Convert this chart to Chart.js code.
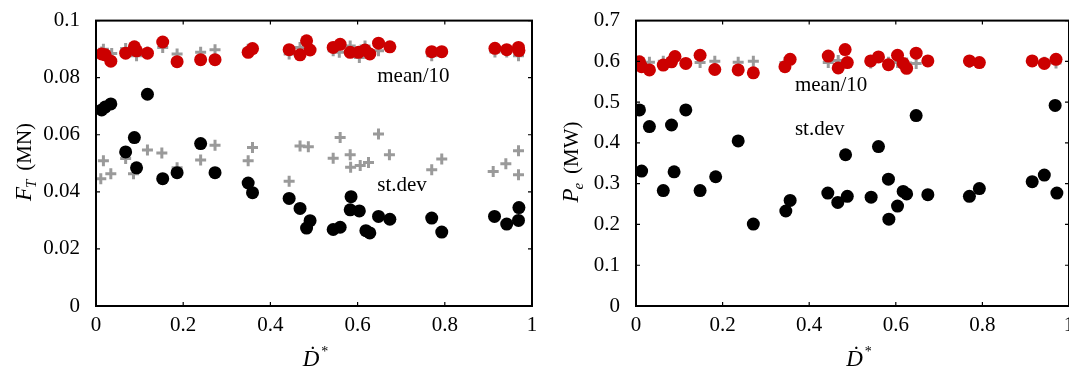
<!DOCTYPE html>
<html>
<head>
<meta charset="utf-8">
<script src="https://cdn.jsdelivr.net/npm/chart.js@4/dist/chart.umd.min.js"></script>
<style>
    html, body { margin: 0; padding: 0; background: #fff; overflow: hidden; }
    body { width: 1069px; height: 368px; position: relative; }
    .box { position: absolute; top: 0; width: 545px; height: 368px; }
</style>
</head>
<body>
<div class="box" style="left:0"><canvas id="forceCanvas" width="545" height="368"></canvas></div>
<div class="box" style="left:540px"><canvas id="powerCanvas" width="545" height="368"></canvas></div>
<script>
// thrust force F_T (MN) vs D*
const forceMeanX = [0.013, 0.021, 0.034, 0.068, 0.088, 0.093, 0.118, 0.153, 0.186, 0.240, 0.273, 0.349, 0.359, 0.443, 0.468, 0.483, 0.491, 0.544, 0.560, 0.583, 0.602, 0.617, 0.628, 0.648, 0.674, 0.770, 0.793, 0.915, 0.942, 0.969, 0.970];
const forceMeanY = [0.0883, 0.0880, 0.0858, 0.0886, 0.0908, 0.0894, 0.0886, 0.0925, 0.0856, 0.0863, 0.0863, 0.0889, 0.0902, 0.0898, 0.0880, 0.0929, 0.0897, 0.0906, 0.0917, 0.0889, 0.0889, 0.0897, 0.0883, 0.0921, 0.0908, 0.0891, 0.0891, 0.0903, 0.0898, 0.0906, 0.0895];
const forceMeanRefX = [0.013, 0.017, 0.036, 0.068, 0.093, 0.118, 0.153, 0.186, 0.240, 0.273, 0.349, 0.443, 0.468, 0.491, 0.544, 0.558, 0.583, 0.604, 0.617, 0.648, 0.770, 0.793, 0.915, 0.942, 0.969];
const forceMeanRefY = [0.0890, 0.0900, 0.0885, 0.0902, 0.0877, 0.0890, 0.0906, 0.0883, 0.0889, 0.0898, 0.0900, 0.0883, 0.0906, 0.0895, 0.0894, 0.0889, 0.0911, 0.0871, 0.0911, 0.0894, 0.0877, 0.0888, 0.0890, 0.0890, 0.0877];
const forceStdX = [0.013, 0.021, 0.034, 0.068, 0.088, 0.093, 0.118, 0.153, 0.186, 0.240, 0.273, 0.349, 0.359, 0.443, 0.468, 0.483, 0.491, 0.544, 0.560, 0.583, 0.585, 0.604, 0.619, 0.628, 0.648, 0.674, 0.770, 0.793, 0.914, 0.942, 0.969, 0.970];
const forceStdY = [0.0687, 0.0697, 0.0708, 0.0540, 0.0590, 0.0484, 0.0742, 0.0446, 0.0467, 0.0569, 0.0467, 0.0431, 0.0397, 0.0377, 0.0342, 0.0273, 0.0299, 0.0268, 0.0276, 0.0337, 0.0383, 0.0333, 0.0264, 0.0256, 0.0314, 0.0304, 0.0308, 0.0259, 0.0314, 0.0287, 0.0300, 0.0345];
const forceStdRefX = [0.011, 0.017, 0.034, 0.068, 0.086, 0.118, 0.151, 0.186, 0.240, 0.273, 0.349, 0.359, 0.443, 0.468, 0.487, 0.544, 0.560, 0.583, 0.584, 0.606, 0.625, 0.648, 0.673, 0.770, 0.793, 0.911, 0.940, 0.969, 0.969];
const forceStdRefY = [0.0446, 0.0509, 0.0463, 0.0517, 0.0463, 0.0547, 0.0536, 0.0484, 0.0512, 0.0563, 0.0509, 0.0555, 0.0437, 0.0561, 0.0558, 0.0518, 0.0590, 0.0530, 0.0486, 0.0492, 0.0503, 0.0603, 0.0530, 0.0477, 0.0515, 0.0471, 0.0498, 0.0544, 0.0460];

// power P_e (MW) vs D*
const powerMeanX = [0.008, 0.013, 0.031, 0.063, 0.082, 0.090, 0.115, 0.148, 0.182, 0.236, 0.271, 0.344, 0.356, 0.444, 0.467, 0.483, 0.488, 0.542, 0.560, 0.583, 0.604, 0.617, 0.625, 0.647, 0.674, 0.770, 0.793, 0.915, 0.943, 0.970];
const powerMeanY = [0.599, 0.587, 0.579, 0.591, 0.599, 0.612, 0.595, 0.615, 0.580, 0.579, 0.572, 0.587, 0.605, 0.613, 0.584, 0.629, 0.597, 0.601, 0.611, 0.592, 0.615, 0.595, 0.583, 0.620, 0.601, 0.601, 0.597, 0.601, 0.595, 0.605];
const powerMeanRefX = [0.010, 0.031, 0.063, 0.082, 0.148, 0.182, 0.236, 0.271, 0.344, 0.444, 0.467, 0.542, 0.583, 0.604, 0.625, 0.647, 0.674, 0.770, 0.943, 0.970];
const powerMeanRefY = [0.600, 0.598, 0.600, 0.598, 0.597, 0.600, 0.598, 0.600, 0.597, 0.597, 0.602, 0.596, 0.598, 0.597, 0.596, 0.595, 0.600, 0.597, 0.598, 0.596];
const powerStdX = [0.008, 0.013, 0.031, 0.063, 0.082, 0.088, 0.115, 0.148, 0.184, 0.236, 0.271, 0.346, 0.356, 0.443, 0.466, 0.484, 0.488, 0.543, 0.560, 0.583, 0.584, 0.604, 0.617, 0.625, 0.647, 0.674, 0.770, 0.793, 0.915, 0.943, 0.968, 0.972];
const powerStdY = [0.481, 0.331, 0.440, 0.283, 0.444, 0.329, 0.481, 0.283, 0.317, 0.405, 0.201, 0.233, 0.259, 0.277, 0.254, 0.371, 0.269, 0.267, 0.391, 0.311, 0.213, 0.245, 0.281, 0.275, 0.467, 0.273, 0.269, 0.288, 0.305, 0.321, 0.492, 0.277];

const xTicks = [0, 0.2, 0.4, 0.6, 0.8, 1];
const forceTicks = [0, 0.02, 0.04, 0.06, 0.08, 0.1];
const powerTicks = [0, 0.1, 0.2, 0.3, 0.4, 0.5, 0.6, 0.7];

const RED = '#cc0000';
const GRAY = '#9a9a9a';
const SERIF = '"Liberation Serif", "DejaVu Serif", serif';

function pts(xs, ys) {
    return xs.map((x, i) => ({ x: x, y: ys[i] }));
}

function dots(xs, ys, color) {
    return { data: pts(xs, ys), backgroundColor: color, borderColor: color, pointRadius: 6.5, pointBorderWidth: 0, order: 1 };
}

function crosses(xs, ys) {
    return { data: pts(xs, ys), pointStyle: 'cross', borderColor: GRAY, backgroundColor: GRAY, pointRadius: 5.5, pointBorderWidth: 3, order: 2 };
}

// box, inward ticks, axis titles and the two labels
const decor = {
    id: 'decor',
    afterDraw(chart, args, opts) {
        const ctx = chart.ctx;
        const a = chart.chartArea;
        const sx = chart.scales.x, sy = chart.scales.y;
        ctx.save();
        ctx.strokeStyle = '#000';
        ctx.lineWidth = 2;
        ctx.strokeRect(a.left, a.top, a.right - a.left, a.bottom - a.top);
        ctx.lineWidth = 1.2;
        ctx.beginPath();
        sx.ticks.forEach(t => {
            const px = sx.getPixelForValue(t.value);
            ctx.moveTo(px, a.bottom); ctx.lineTo(px, a.bottom - 4);
            ctx.moveTo(px, a.top); ctx.lineTo(px, a.top + 4);
        });
        sy.ticks.forEach(t => {
            const py = sy.getPixelForValue(t.value);
            ctx.moveTo(a.left, py); ctx.lineTo(a.left + 4, py);
            ctx.moveTo(a.right, py); ctx.lineTo(a.right - 4, py);
        });
        ctx.stroke();

        ctx.fillStyle = '#000';
        ctx.textBaseline = 'middle';
        ctx.textAlign = 'left';
        ctx.font = '21px ' + SERIF;
        opts.notes.forEach(n => {
            ctx.fillText(n.text, sx.getPixelForValue(n.x), sy.getPixelForValue(n.y));
        });

        // y title, rotated
        ctx.save();
        ctx.translate(opts.yTitleX, 162);
        ctx.rotate(-Math.PI / 2);
        ctx.textBaseline = 'alphabetic';
        const fMain = 'italic 23px ' + SERIF, fSub = 'italic 15px ' + SERIF, fUnit = '21px ' + SERIF;
        ctx.font = fMain; const w1 = ctx.measureText(opts.yMain).width;
        ctx.font = fSub; const w2 = ctx.measureText(opts.ySub).width;
        ctx.font = fUnit; const w3 = ctx.measureText(opts.yUnit).width;
        let x0 = -(w1 + w2 + 8 + w3) / 2;
        ctx.font = fMain; ctx.fillText(opts.yMain, x0, 8);
        ctx.font = fSub; ctx.fillText(opts.ySub, x0 + w1 - 1, 13);
        ctx.font = fUnit; ctx.fillText(opts.yUnit, x0 + w1 + w2 + 8, 8);
        ctx.restore();

        // x title D-dot star
        ctx.textBaseline = 'alphabetic';
        ctx.font = 'italic 23px ' + SERIF;
        const wd = ctx.measureText('Ḋ').width;
        const cx = (a.left + a.right) / 2 + opts.xTitleShift;
        ctx.fillText('Ḋ', cx - wd / 2 - 3, 366);
        ctx.font = '14px ' + SERIF;
        ctx.fillText('*', cx + wd / 2 - 1, 356);
        ctx.restore();
    }
};

function makeChart(id, datasets, yMax, yTicks, rightPad, opts) {
    const ctx = document.getElementById(id).getContext('2d');
    const tickFont = { family: SERIF, size: 21 };
    return new Chart(ctx, {
        type: 'scatter',
        data: { datasets: datasets },
        options: {
            responsive: false,
            animation: false,
            layout: { padding: { top: 16, right: rightPad, left: 0, bottom: 0 } },
            plugins: { legend: { display: false }, tooltip: { enabled: false }, decor: opts },
            scales: {
                x: {
                    type: 'linear', min: 0, max: 1,
                    afterBuildTicks: s => { s.ticks = xTicks.map(v => ({ value: v })); },
                    afterFit: s => { s.height = 62; },
                    ticks: { font: tickFont, color: '#000', padding: -1, maxRotation: 0, callback: v => String(+v.toFixed(2)) },
                    grid: { display: false },
                    border: { display: false }
                },
                y: {
                    min: 0, max: yMax,
                    afterBuildTicks: s => { s.ticks = yTicks.map(v => ({ value: v })); },
                    afterFit: s => { s.width = 96; },
                    ticks: { font: tickFont, color: '#000', padding: 8, callback: v => String(+v.toFixed(2)) },
                    grid: { display: false },
                    border: { display: false }
                }
            }
        },
        plugins: [decor]
    });
}

document.addEventListener('DOMContentLoaded', function() {
    makeChart('forceCanvas', [
        dots(forceMeanX, forceMeanY, RED),
        crosses(forceMeanRefX, forceMeanRefY),
        dots(forceStdX, forceStdY, '#000'),
        crosses(forceStdRefX, forceStdRefY)
    ], 0.1, forceTicks, 13, {
        notes: [{ text: 'mean/10', x: 0.645, y: 0.0803 }, { text: 'st.dev', x: 0.645, y: 0.0424 }],
        yTitleX: 23, yMain: 'F', ySub: 'T', yUnit: '(MN)', xTitleShift: 0
    });

    makeChart('powerCanvas', [
        dots(powerMeanX, powerMeanY, RED),
        crosses(powerMeanRefX, powerMeanRefY),
        dots(powerStdX, powerStdY, '#000')
    ], 0.7, powerTicks, 16, {
        notes: [{ text: 'mean/10', x: 0.367, y: 0.542 }, { text: 'st.dev', x: 0.367, y: 0.432 }],
        yTitleX: 30, yMain: 'P', ySub: 'e', yUnit: '(MW)', xTitleShift: 5
    });
});
</script>
</body>
</html>
